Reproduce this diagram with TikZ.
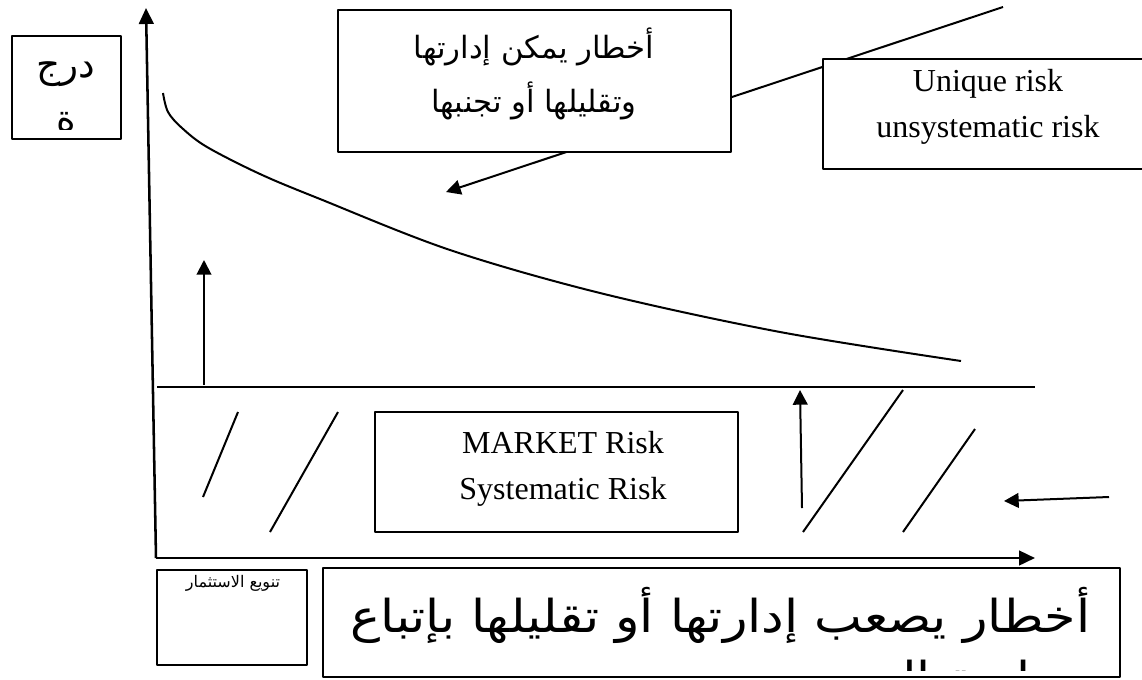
\documentclass[tikz,border=0pt]{standalone}
\usepackage{fontspec}
\setmainfont{Liberation Serif}
\newfontfamily\arabicfont[Script=Arabic]{DejaVu Sans}
\newfontfamily\widearabic[Script=Arabic,FakeStretch=1.12]{DejaVu Sans}
\TeXXeTstate=1
\usetikzlibrary{arrows.meta}

\begin{document}
\begin{tikzpicture}[
  x=0.75pt,
  y=-0.75pt,
  line join=round,
  axisline/.style={draw=black,line width=1.9pt,-{Triangle[length=12pt,width=11pt]}},
  pointer/.style={draw=black,line width=1.5pt,-{Triangle[length=11pt,width=11pt]}},
  hatch/.style={draw=black,line width=1.5pt},
  framebox/.style={draw=black,line width=1.5pt,fill=white,inner sep=0pt},
  engtext/.style={font=\fontsize{24}{34}\selectfont,align=center},
  arabtext/.style={font=\arabicfont\fontsize{23}{41}\selectfont,align=center},
  bigarab/.style={font=\widearabic\fontsize{34}{46}\selectfont,align=right},
  smallarab/.style={font=\arabicfont\fontsize{12}{14}\selectfont}
]
  \clip (0,0) rectangle (1142,679);

  % Axes of the diagram.
  \coordinate (origin) at (156,558);
  \coordinate (ytip) at (146,8);
  \coordinate (xtip) at (1035,558);
  \draw[axisline] (origin) -- (ytip);
  \draw[axisline] (origin) -- (xtip);

  % Level of the market risk.
  \coordinate (levelL) at (157,387);
  \coordinate (levelR) at (1035,387);
  \draw[hatch] (levelL) -- (levelR);

  % Total risk falling with diversification.
  \draw[hatch] plot[smooth,tension=0.55] coordinates {(163,93) (168,112) (182,128) (207,147)
    (260,174) (320,199) (450,250) (600,293) (780,332) (961,361)};

  % Hatching under the level.
  \draw[hatch] (203,497) -- (238,412);
  \draw[hatch] (270,532) -- (338,412);
  \draw[hatch] (803,532) -- (903,390);
  \draw[hatch] (903,532) -- (975,429);

  % Small arrows.
  \coordinate (upAfoot) at (204,385);
  \coordinate (upAtip) at (204,260);
  \draw[pointer] (upAfoot) -- (upAtip);
  \coordinate (upBfoot) at (802,508);
  \coordinate (upBtip) at (800,390);
  \draw[pointer] (upBfoot) -- (upBtip);
  \coordinate (leftfoot) at (1109,497);
  \coordinate (lefttip) at (1004,501);
  \draw[pointer] (leftfoot) -- (lefttip);

  % Long pointer behind the two top boxes.
  \coordinate (longfoot) at (1003,7);
  \coordinate (longtip) at (446,192);
  \draw[pointer] (longfoot) -- (longtip);

  % Boxes.
  \node[framebox,minimum width=81.75pt,minimum height=77.25pt] (degbox) at (66.5,87.5) {};
  \begin{scope}
    \clip (14,38) rectangle (119,129);
    \node[arabtext,font=\arabicfont\fontsize{28}{40}\selectfont] (degtext) at (66,97)
      {\beginR درج\endR\\\beginR ة\endR};
  \end{scope}

  \node[framebox,minimum width=294.75pt,minimum height=106.5pt] (manbox) at (534.5,81) {};
  \node[arabtext] (mantext) at (534,74)
    {\beginR أخطار يمكن إدارتها\endR\\\beginR وتقليلها أو تجنبها\endR};

  \node[framebox,minimum width=247.5pt,minimum height=82.5pt] (uniqbox) at (988,114) {};
  \node[engtext] (uniqtext) at (988,107) {Unique risk\\unsystematic risk};

  \node[framebox,minimum width=272.25pt,minimum height=90pt] (mktbox) at (556.5,472) {};
  \node[engtext] (mkttext) at (563,469) {MARKET Risk\\Systematic Risk};

  \node[framebox,minimum width=112.5pt,minimum height=71.25pt] (divbox) at (232,617.5) {};
  \node[smallarab] (divtext) at (233,583) {\beginR تنويع الاستثمار\endR};

  \node[framebox,minimum width=597.75pt,minimum height=81.75pt] (hardbox) at (721.5,622.5) {};
  \begin{scope}
    \clip (325,570) rectangle (1118,670);
    \node[bigarab,anchor=north east] (hardtext) at (1095,583)
      {\beginR أخطار يصعب إدارتها أو تقليلها بإتباع\endR\\\beginR سياسة التنويع\endR};
  \end{scope}
\end{tikzpicture}
\end{document}
